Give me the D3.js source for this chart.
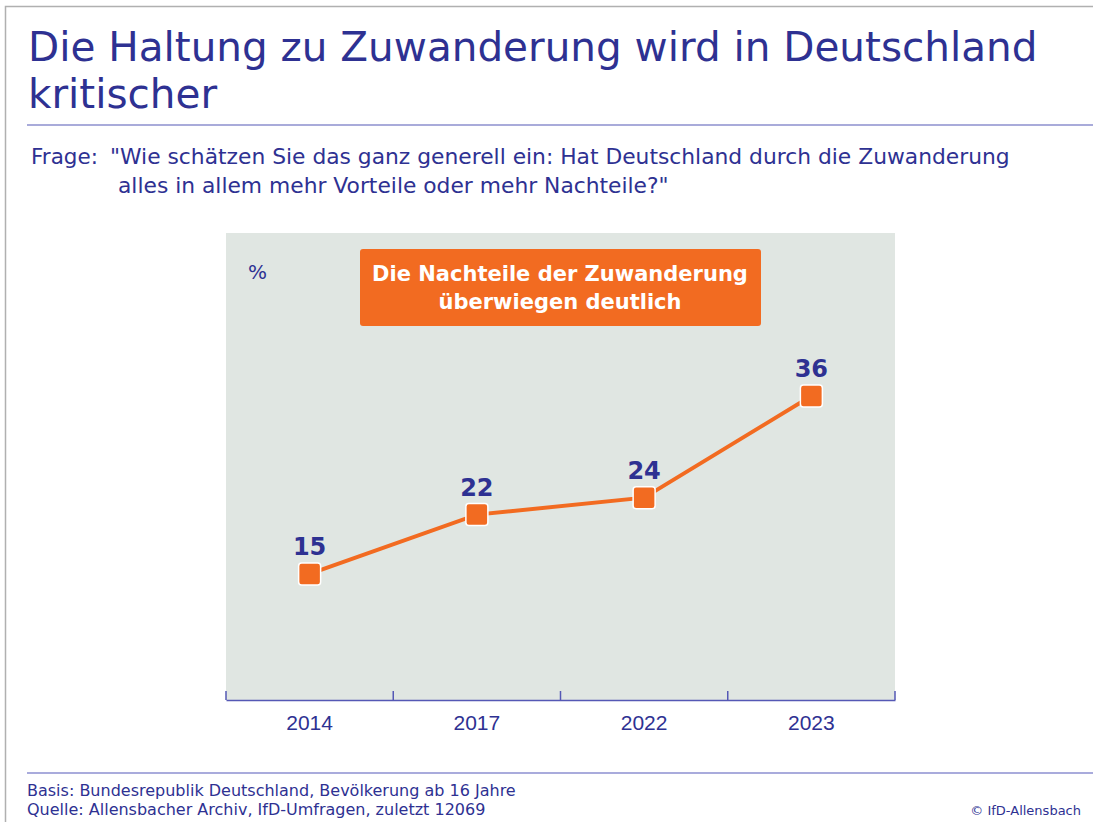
<!DOCTYPE html>
<html>
<head>
<meta charset="utf-8">
<script src="https://cdn.jsdelivr.net/npm/d3@7"></script>
<style>
  body { margin: 0; background: #fff; }
  svg { display: block; font-family: "DejaVu Sans", sans-serif; }
</style>
</head>
<body>
<svg></svg>
<script>
const years = ['2014', '2017', '2022', '2023'];
const values = [15, 22, 24, 36];
const titleLines = ['Die Haltung zu Zuwanderung wird in Deutschland', 'kritischer'];
const questionLines = ['"Wie schätzen Sie das ganz generell ein: Hat Deutschland durch die Zuwanderung',
                       'alles in allem mehr Vorteile oder mehr Nachteile?"'];
const calloutLines = ['Die Nachteile der Zuwanderung', 'überwiegen deutlich'];
const footerLines = ['Basis: Bundesrepublik Deutschland, Bevölkerung ab 16 Jahre',
                     'Quelle: Allensbacher Archiv, IfD-Umfragen, zuletzt 12069'];

const blue = '#2e3192',
      lineBlue = '#5558b5',
      orange = '#f26b21',
      plotBg = '#e0e6e2';

const svg = d3.select('svg')
	.attr('width', 1093)
	.attr('height', 822);

// frame
svg.append('path')
	.attr('d', 'M5.5,822 V6.5 H1093')
	.attr('fill', 'none')
	.attr('stroke', '#b0b0b0')
	.attr('stroke-width', 1.5);

// title
svg.append('g').selectAll('text')
	.data(titleLines)
	.join('text')
		.attr('x', 28)
		.attr('y', (d, i) => 61 + i * 47)
		.attr('fill', blue)
		.attr('font-size', 40.5)
		.text(d => d);

svg.append('line')
	.attr('x1', 27).attr('x2', 1093)
	.attr('y1', 125).attr('y2', 125)
	.attr('stroke', lineBlue)
	.attr('stroke-width', 1.2);

// question
svg.append('text')
	.attr('x', 31).attr('y', 164)
	.attr('fill', blue)
	.attr('font-size', 21.5)
	.text('Frage:');

svg.append('g').selectAll('text')
	.data(questionLines)
	.join('text')
		.attr('x', (d, i) => i ? 118 : 110)
		.attr('y', (d, i) => 164 + i * 29)
		.attr('fill', blue)
		.attr('font-size', 21.8)
		.text(d => d);

// plot
const plot = { left: 226, right: 895, top: 233, bottom: 700 };

svg.append('rect')
	.attr('x', plot.left).attr('y', plot.top)
	.attr('width', plot.right - plot.left)
	.attr('height', plot.bottom - plot.top)
	.attr('fill', plotBg);

const x = d3.scaleBand()
	.domain(years)
	.range([plot.left, plot.right]);

const y = d3.scaleLinear()
	.domain([0, 55])
	.range([701, 235]);

// x axis with ticks on band edges
const axis = svg.append('g')
	.attr('transform', `translate(0, ${plot.bottom})`)
	.call(d3.axisBottom(x).tickSize(0).tickPadding(15));
axis.select('.domain').attr('stroke', lineBlue).attr('stroke-width', 1.5);
axis.selectAll('.tick text')
	.attr('fill', blue)
	.attr('font-size', 21)
	.attr('font-family', 'Liberation Sans, sans-serif');

const edges = years.map(d => x(d)).concat([x.range()[1]]);
axis.selectAll('.edge')
	.data(edges)
	.join('line')
		.attr('class', 'edge')
		.attr('x1', d => d).attr('x2', d => d)
		.attr('y1', 0).attr('y2', -9)
		.attr('stroke', lineBlue)
		.attr('stroke-width', 1.5);

svg.append('text')
	.attr('x', 248).attr('y', 279)
	.attr('fill', blue)
	.attr('font-size', 20)
	.text('%');

// callout box
svg.append('rect')
	.attr('x', 360).attr('y', 249)
	.attr('width', 401).attr('height', 77)
	.attr('rx', 3)
	.attr('fill', orange);

svg.append('g').selectAll('text')
	.data(calloutLines)
	.join('text')
		.attr('x', 560)
		.attr('y', (d, i) => 281 + i * 28)
		.attr('text-anchor', 'middle')
		.attr('fill', '#fff')
		.attr('font-weight', 'bold')
		.attr('font-size', 21)
		.text(d => d);

// line + markers
const cx = d => x(d) + x.bandwidth() / 2;
const pts = years.map((d, i) => [cx(d), y(values[i])]);

svg.append('path')
	.attr('d', d3.line()(pts))
	.attr('fill', 'none')
	.attr('stroke', orange)
	.attr('stroke-width', 4);

svg.append('g').selectAll('rect')
	.data(pts)
	.join('rect')
		.attr('x', d => d[0] - 11)
		.attr('y', d => d[1] - 11)
		.attr('width', 22).attr('height', 22)
		.attr('rx', 3)
		.attr('fill', orange)
		.attr('stroke', '#fff')
		.attr('stroke-width', 1.5);

svg.append('g').selectAll('text')
	.data(pts)
	.join('text')
		.attr('x', d => d[0])
		.attr('y', d => d[1] - 19)
		.attr('text-anchor', 'middle')
		.attr('fill', blue)
		.attr('font-weight', 'bold')
		.attr('font-size', 24)
		.text((d, i) => values[i]);

// footer
svg.append('line')
	.attr('x1', 27).attr('x2', 1093)
	.attr('y1', 773).attr('y2', 773)
	.attr('stroke', '#8c8fd0')
	.attr('stroke-width', 1.5);

svg.append('g').selectAll('text')
	.data(footerLines)
	.join('text')
		.attr('x', 27)
		.attr('y', (d, i) => 796 + i * 19)
		.attr('fill', blue)
		.attr('font-size', 16)
		.text(d => d);

svg.append('text')
	.attr('x', 1081).attr('y', 815)
	.attr('text-anchor', 'end')
	.attr('fill', blue)
	.attr('font-size', 13)
	.text('© IfD-Allensbach');
</script>
</body>
</html>
